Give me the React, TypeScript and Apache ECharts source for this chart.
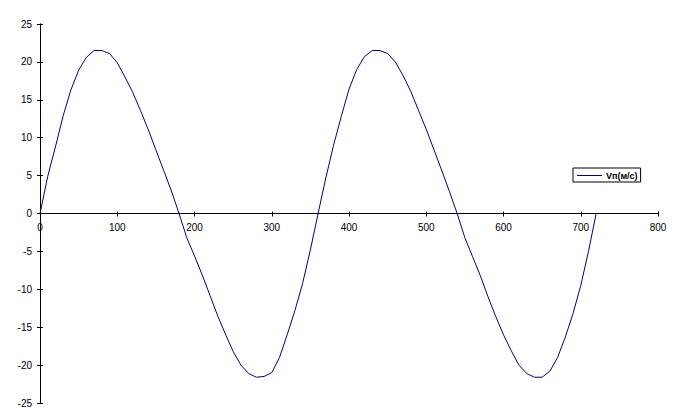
import React, { useEffect, useRef } from "react";
import * as echarts from "echarts";

const seriesName = "Vп(м/с)";

const angleDeg = [
  0, 10, 20, 30, 40, 50, 60, 70, 80, 90, 100, 110, 120, 130, 140, 150, 160, 170, 180,
  190, 200, 210, 220, 230, 240, 250, 260, 270, 280, 290, 300, 310, 320, 330, 340, 350, 360,
  370, 380, 390, 400, 410, 420, 430, 440, 450, 460, 470, 480, 490, 500, 510, 520, 530, 540,
  550, 560, 570, 580, 590, 600, 610, 620, 630, 640, 650, 660, 670, 680, 690, 700, 710, 720,
];

const velocity = [
  0, 4.9, 8.8, 12.9, 16.3, 18.9, 20.6, 21.5, 21.5, 21.1, 19.9, 18.0, 16.0, 13.6, 11.1, 8.4, 5.7, 3.0, 0,
  -3.2, -5.6, -8.1, -10.8, -13.5, -15.9, -18.2, -20.0, -21.1, -21.6, -21.5, -21.0, -19.0, -16.0, -12.8, -9.2, -4.8, 0,
  4.7, 9.0, 12.8, 16.4, 19.0, 20.7, 21.5, 21.5, 21.1, 20.0, 18.2, 16.1, 13.6, 11.1, 8.4, 5.7, 2.9, 0,
  -3.2, -5.7, -8.2, -11.0, -13.6, -16.0, -18.1, -20.0, -21.1, -21.6, -21.6, -20.8, -19.0, -16.3, -13.2, -9.5, -5.0, 0,
];

const xMin = 0;
const xMax = 800;
const xStep = 100;
const yMin = -25;
const yMax = 25;
const yStep = 5;

const FONT = "'Liberation Sans', Arial, sans-serif";

const GRID_TOP = 24;
const GRID_BOTTOM = 14;
const CHART_H = 417;
// the value axis is drawn where y = 0, i.e. half the plot height above the bottom edge
const X_AXIS_OFFSET = -((CHART_H - GRID_TOP - GRID_BOTTOM) * (0 - yMin)) / (yMax - yMin);

export default function App() {
  const ref = useRef<HTMLDivElement>(null);

  useEffect(() => {
    document.body.style.margin = "0";
    const chart = echarts.init(ref.current!, null, { renderer: "svg" });
    const axisLine = { show: true, onZero: false, lineStyle: { color: "#000", width: 1 } };
    const points = angleDeg.map((a, i) => [a, velocity[i]]);
    chart.setOption({
      animation: false,
      backgroundColor: "#fff",
      grid: {
        left: 40,
        right: 15,
        top: GRID_TOP,
        bottom: GRID_BOTTOM,
        containLabel: false,
        outerBoundsMode: "none",
      },
      legend: {
        show: true,
        left: 573,
        top: 168,
        orient: "vertical",
        borderColor: "#000",
        borderWidth: 1,
        borderRadius: 0,
        padding: [3, 3, 2, 4],
        itemWidth: 25,
        itemHeight: 1,
        itemGap: 0,
        textStyle: { fontFamily: FONT, fontSize: 9, fontWeight: "bold", color: "#000", padding: [0, 0, 0, -1] },
        data: [{ name: seriesName, icon: "rect" }],
      },
      xAxis: [
        {
          type: "value",
          position: "bottom",
          offset: X_AXIS_OFFSET,
          min: xMin,
          max: xMax,
          interval: xStep,
          axisLine,
          axisTick: { show: true, inside: false, length: 3, lineStyle: { color: "#000" } },
          axisLabel: { show: true, margin: 9, fontFamily: FONT, fontSize: 10, color: "#000" },
          splitLine: { show: false },
        },
        {
          type: "value",
          position: "bottom",
          offset: X_AXIS_OFFSET,
          min: xMin,
          max: xMax,
          interval: xStep,
          axisLine,
          axisTick: { show: true, inside: true, length: 2, lineStyle: { color: "#000" } },
          axisLabel: { show: false },
          splitLine: { show: false },
        },
      ],
      yAxis: [
        {
          type: "value",
          position: "left",
          min: yMin,
          max: yMax,
          interval: yStep,
          axisLine,
          axisTick: { show: true, inside: false, length: 3, lineStyle: { color: "#000" } },
          axisLabel: { show: true, margin: 8, fontFamily: FONT, fontSize: 10, color: "#000" },
          splitLine: { show: false },
        },
        {
          type: "value",
          position: "left",
          min: yMin,
          max: yMax,
          interval: yStep,
          axisLine,
          axisTick: { show: true, inside: true, length: 3, lineStyle: { color: "#000" } },
          axisLabel: { show: false },
          splitLine: { show: false },
        },
      ],
      series: [
        {
          name: seriesName,
          type: "line",
          xAxisIndex: 0,
          yAxisIndex: 0,
          data: points,
          showSymbol: false,
          symbol: "none",
          smooth: false,
          lineStyle: { color: "#000080", width: 1 },
          itemStyle: { color: "#000080" },
        },
      ],
    });
    return () => chart.dispose();
  }, []);

  return (
    <div
      ref={ref}
      style={{ position: "fixed", left: 0, top: 0, width: 673, height: 417, background: "#fff" }}
    />
  );
}
